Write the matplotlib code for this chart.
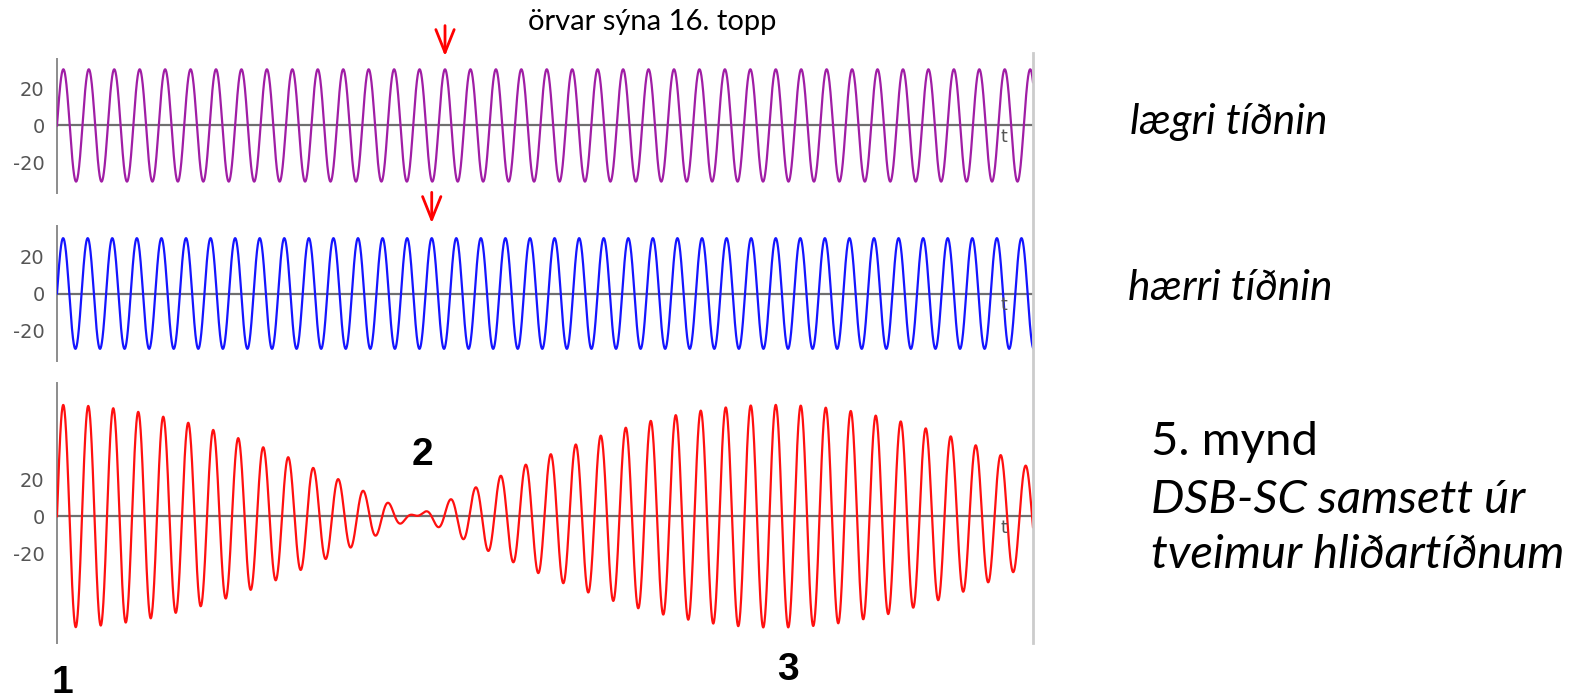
import matplotlib
matplotlib.use("Agg")
import matplotlib.pyplot as plt
import matplotlib.transforms as mtrans
from matplotlib.lines import Line2D
import numpy as np

# ========= Data =========
amp_low = 30.5        # lower side frequency amplitude
amp_high = 30.0       # higher side frequency amplitude
cycles_low = 38.36    # cycles across the plotted window
cycles_high = 39.72
peak_marked = 16      # arrows point at the 16th peak
ytick_vals = [-20, 0, 20]
ytick_labels = ["-20", "0", "20"]
title_text = "örvar sýna 16. topp"
side_labels = ["lægri tíðnin", "hærri tíðnin"]
caption_lines = ["5. mynd", "DSB-SC samsett úr", "tveimur hliðartíðnum"]
point_labels = ["1", "2", "3"]
point_label_t = [0.006, 0.374, 0.749]

t = np.linspace(0, 1, 6000)
low = amp_low * np.sin(2 * np.pi * cycles_low * t)
high = amp_high * np.sin(2 * np.pi * cycles_high * t)
dsb = low + high

# ========= Layout helpers =========
W, H = 1575, 698
def rect(x0, y0, x1, y1):
    return [x0 / W, 1 - y1 / H, (x1 - x0) / W, (y1 - y0) / H]

fig = plt.figure(figsize=(W / 100, H / 100), dpi=100)
txt_font = ["Lato", "DejaVu Sans"]
tick_font = ["DejaVu Sans"]
num_font = ["Liberation Sans", "DejaVu Sans"]

ax_top = fig.add_axes(rect(57, 59, 1033, 193))
ax_mid = fig.add_axes(rect(57, 226, 1033, 361))
ax_bot = fig.add_axes(rect(57, 383, 1033, 643))

panels = [
    (ax_top, low, "#a01ea5", (-36.7, 36.1)),
    (ax_mid, high, "#1515ff", (-36.6, 36.6)),
    (ax_bot, dsb, "#ff1010", (-68.9, 72.4)),
]
for ax, y, col, ylim in panels:
    ax.plot(t, y, color=col, lw=1.6, zorder=3)
    ax.axhline(0, color="#707070", lw=1.6, zorder=2)
    ax.set_xlim(0, 1)
    ax.set_ylim(*ylim)
    for s in ("top", "right", "bottom"):
        ax.spines[s].set_visible(False)
    ax.spines["left"].set_color("#8c8c8c")
    ax.spines["left"].set_linewidth(1.4)
    ax.set_xticks([])
    ax.set_yticks(ytick_vals, labels=ytick_labels)
    ax.tick_params(axis="y", length=0, pad=9, labelcolor="#555555", labelsize=14)
    for lab in ax.get_yticklabels():
        lab.set_family(tick_font)
    tr = mtrans.blended_transform_factory(ax.transAxes, ax.transData)
    ax.text(0.967, -1.5, "t", transform=tr, ha="left", va="top",
            color="#555555", fontsize=12.5, family=tick_font)
    ax.patch.set_visible(False)

# right border shared by all panels
fig.add_artist(Line2D([1033 / W] * 2, [1 - 53 / H, 1 - 643 / H], color="#cccccc", lw=2))

# arrows at the 16th peak of each side frequency
for ax, cyc in ((ax_top, cycles_low), (ax_mid, cycles_high)):
    tp = (peak_marked - 1 + 0.25) / cyc
    ax.annotate("", xy=(tp, 1.0), xycoords=("data", "axes fraction"),
                xytext=(tp, 1.27), textcoords=("data", "axes fraction"),
                arrowprops=dict(arrowstyle="->,head_length=0.75,head_width=0.3",
                                color="red", lw=2, mutation_scale=22))

fig.text(652 / W, 1 - 22 / H, title_text, ha="center", va="center",
         fontsize=21, family=txt_font)

fig.text(1130 / W, 1 - 122 / H, side_labels[0], ha="left", va="center",
         fontsize=30.5, style="italic", family=txt_font)
fig.text(1128 / W, 1 - 288 / H, side_labels[1], ha="left", va="center",
         fontsize=30.5, style="italic", family=txt_font)

fig.text(1151 / W, 1 - 442 / H, caption_lines[0], ha="left", va="center",
         fontsize=34, family=txt_font)
fig.text(1151 / W, 1 - 500 / H, caption_lines[1], ha="left", va="center",
         fontsize=34, style="italic", family=txt_font)
fig.text(1151 / W, 1 - 555 / H, caption_lines[2], ha="left", va="center",
         fontsize=34, style="italic", family=txt_font)

tr = mtrans.blended_transform_factory(ax_bot.transData, ax_bot.transAxes)
for lab, tx, ya in zip(point_labels, point_label_t, [-0.154, 0.723, -0.104]):
    ax_bot.text(tx, ya, lab, transform=tr, ha="center", va="center",
                fontsize=28, fontweight="bold", family=num_font, clip_on=False)

fig.savefig("out.png", dpi=100)
